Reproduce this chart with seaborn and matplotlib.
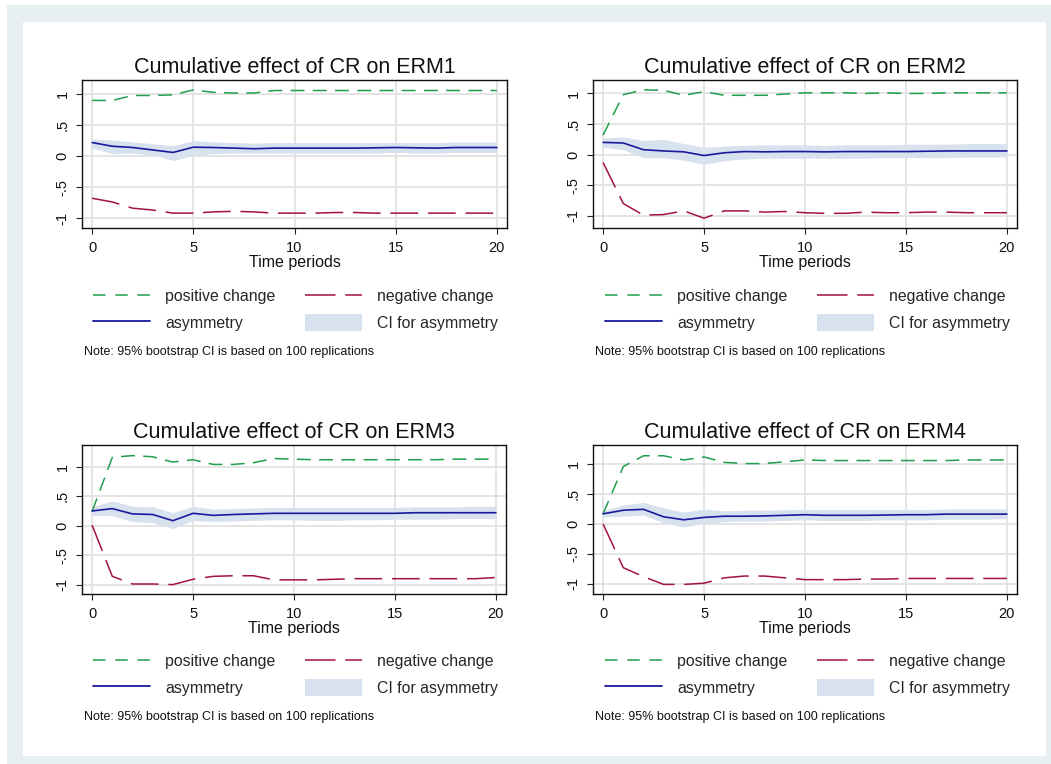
import numpy as np
import pandas as pd
import matplotlib
matplotlib.use("Agg")
import matplotlib.pyplot as plt
from matplotlib.lines import Line2D
from matplotlib.patches import Patch, Rectangle
import seaborn as sns

# time axis
periods = list(range(21))

# ERM1
pos1 = [0.90, 0.90, 0.98, 0.98, 0.99, 1.07, 1.03, 1.02, 1.02, 1.06, 1.06, 1.06, 1.06, 1.06, 1.06, 1.06, 1.06, 1.06, 1.06, 1.06, 1.06]
neg1 = [-0.68, -0.74, -0.84, -0.87, -0.92, -0.92, -0.90, -0.89, -0.90, -0.92, -0.92, -0.92, -0.91, -0.91, -0.92, -0.92, -0.92, -0.92, -0.92, -0.92, -0.92]
asy1 = [0.22, 0.16, 0.14, 0.10, 0.06, 0.145, 0.14, 0.13, 0.12, 0.13, 0.13, 0.13, 0.13, 0.13, 0.135, 0.14, 0.135, 0.13, 0.14, 0.14, 0.14]
lo1 = [0.13, 0.04, 0.05, 0.02, -0.07, 0.01, 0.04, 0.05, 0.05, 0.05, 0.05, 0.05, 0.05, 0.05, 0.05, 0.06, 0.05, 0.05, 0.06, 0.06, 0.06]
hi1 = [0.28, 0.26, 0.23, 0.20, 0.17, 0.25, 0.23, 0.22, 0.21, 0.22, 0.22, 0.22, 0.22, 0.22, 0.22, 0.22, 0.22, 0.22, 0.23, 0.23, 0.23]

# ERM2
pos2 = [0.32, 0.98, 1.06, 1.05, 0.97, 1.03, 0.97, 0.97, 0.97, 0.99, 1.01, 1.01, 1.01, 1.00, 1.01, 1.00, 1.00, 1.01, 1.01, 1.01, 1.01]
neg2 = [-0.13, -0.80, -0.99, -0.98, -0.92, -1.04, -0.92, -0.92, -0.94, -0.93, -0.95, -0.96, -0.96, -0.94, -0.95, -0.95, -0.94, -0.94, -0.95, -0.95, -0.95]
asy2 = [0.20, 0.19, 0.08, 0.06, 0.045, -0.015, 0.03, 0.05, 0.045, 0.05, 0.05, 0.045, 0.05, 0.05, 0.05, 0.05, 0.055, 0.06, 0.06, 0.06, 0.06]
lo2 = [0.12, 0.08, -0.05, -0.05, -0.09, -0.16, -0.10, -0.07, -0.06, -0.06, -0.06, -0.06, -0.06, -0.06, -0.05, -0.05, -0.05, -0.05, -0.04, -0.04, -0.04]
hi2 = [0.27, 0.29, 0.23, 0.25, 0.18, 0.12, 0.14, 0.15, 0.16, 0.16, 0.16, 0.15, 0.16, 0.16, 0.16, 0.17, 0.17, 0.17, 0.18, 0.18, 0.18]

# ERM3
pos3 = [0.24, 1.16, 1.19, 1.17, 1.08, 1.12, 1.04, 1.04, 1.07, 1.14, 1.13, 1.12, 1.12, 1.12, 1.12, 1.12, 1.12, 1.12, 1.13, 1.13, 1.13]
neg3 = [0.01, -0.86, -0.99, -0.99, -1.00, -0.91, -0.86, -0.85, -0.85, -0.92, -0.92, -0.92, -0.91, -0.90, -0.90, -0.90, -0.90, -0.90, -0.90, -0.90, -0.88]
asy3 = [0.25, 0.29, 0.20, 0.19, 0.085, 0.21, 0.175, 0.19, 0.20, 0.21, 0.21, 0.21, 0.21, 0.21, 0.21, 0.21, 0.22, 0.22, 0.22, 0.22, 0.22]
lo3 = [0.17, 0.17, 0.07, 0.05, -0.05, 0.09, 0.07, 0.08, 0.09, 0.10, 0.10, 0.09, 0.09, 0.10, 0.10, 0.11, 0.11, 0.11, 0.12, 0.12, 0.12]
hi3 = [0.32, 0.42, 0.33, 0.32, 0.22, 0.33, 0.28, 0.29, 0.30, 0.31, 0.31, 0.31, 0.31, 0.31, 0.31, 0.31, 0.32, 0.32, 0.32, 0.33, 0.33]

# ERM4
pos4 = [0.17, 0.96, 1.14, 1.14, 1.07, 1.12, 1.03, 1.01, 1.01, 1.04, 1.07, 1.06, 1.06, 1.06, 1.06, 1.06, 1.06, 1.06, 1.07, 1.07, 1.07]
neg4 = [0.00, -0.73, -0.88, -1.01, -1.01, -0.99, -0.90, -0.87, -0.87, -0.90, -0.93, -0.93, -0.93, -0.92, -0.92, -0.91, -0.91, -0.91, -0.91, -0.91, -0.91]
asy4 = [0.17, 0.23, 0.245, 0.12, 0.07, 0.11, 0.13, 0.13, 0.135, 0.145, 0.155, 0.145, 0.145, 0.145, 0.15, 0.155, 0.155, 0.165, 0.165, 0.165, 0.165]
lo4 = [0.12, 0.13, 0.15, 0.02, -0.05, 0.01, 0.04, 0.05, 0.05, 0.06, 0.07, 0.06, 0.06, 0.06, 0.07, 0.07, 0.07, 0.08, 0.08, 0.08, 0.09]
hi4 = [0.22, 0.32, 0.36, 0.27, 0.20, 0.25, 0.22, 0.23, 0.23, 0.24, 0.24, 0.24, 0.24, 0.24, 0.24, 0.24, 0.24, 0.25, 0.25, 0.25, 0.25]

titles = ["Cumulative effect of CR on ERM1", "Cumulative effect of CR on ERM2",
          "Cumulative effect of CR on ERM3", "Cumulative effect of CR on ERM4"]
ylims = [(-1.16, 1.23), (-1.20, 1.22), (-1.16, 1.37), (-1.17, 1.32)]
yticks = [-1, -0.5, 0, 0.5, 1]
ytick_labels = ["-1", "-.5", "0", ".5", "1"]
xticks = [0, 5, 10, 15, 20]
legend_labels = ["positive change", "asymmetry", "negative change", "CI for asymmetry"]
note = "Note: 95% bootstrap CI is based on 100 replications"

GREEN = "#1f9e4c"
RED = "#a3123f"
BLUE = "#1a1a9c"
CI_FILL = "#d8e1ee"
GRID = "#e2e2e2"
FRAME = "#e8eff2"

sns.set_style("white")
plt.rcParams["font.family"] = ["Liberation Sans", "DejaVu Sans"]
plt.rcParams["lines.scale_dashes"] = False

W, H = 1051, 764
fig = plt.figure(figsize=(W / 100, H / 100), dpi=100)
fig.patch.set_facecolor("white")

# outer light frame and inner white area (pixels)
fig.patches.append(Rectangle((7 / W, 0), 1 - 7 / W, 1 - 5 / H, transform=fig.transFigure,
                             facecolor=FRAME, edgecolor="none", zorder=-10))
fig.patches.append(Rectangle((23 / W, 1 - 756 / H), (1046 - 23) / W, (756 - 22) / H,
                             transform=fig.transFigure, facecolor="white", edgecolor="none", zorder=-9))

panels = [
    (pos1, neg1, asy1, lo1, hi1),
    (pos2, neg2, asy2, lo2, hi2),
    (pos3, neg3, asy3, lo3, hi3),
    (pos4, neg4, asy4, lo4, hi4),
]
# axes boxes in pixels: left, top, right, bottom
boxes = [(82, 80, 507, 228), (593, 80, 1017, 228), (82, 445, 506, 594), (593, 445, 1017, 594)]
leg_pos = [(93, 288), (605, 288), (93, 653), (605, 653)]
note_pos = [(84, 352), (595, 352), (84, 717), (595, 717)]

for i, (pos, neg, asy, lo, hi) in enumerate(panels):
    l, t, r, b = boxes[i]
    ax = fig.add_axes([l / W, 1 - b / H, (r - l) / W, (b - t) / H])
    df = pd.DataFrame({"t": periods, "pos": pos, "neg": neg, "asy": asy, "lo": lo, "hi": hi})

    ax.fill_between(df["t"], df["lo"], df["hi"], color=CI_FILL, linewidth=0, zorder=2)
    sns.lineplot(data=df, x="t", y="pos", ax=ax, color=GREEN, linewidth=1.1,
                 linestyle=(0, (10, 6)), zorder=3)
    sns.lineplot(data=df, x="t", y="neg", ax=ax, color=RED, linewidth=1.1,
                 linestyle=(0, (20, 7)), zorder=3)
    sns.lineplot(data=df, x="t", y="asy", ax=ax, color=BLUE, linewidth=1.2, zorder=4)

    ax.set_xlim(-0.5, 20.5)
    ax.set_ylim(*ylims[i])
    ax.set_xticks(xticks)
    ax.set_yticks(yticks)
    ax.set_yticklabels(ytick_labels, rotation=90, va="center")
    ax.grid(True, color=GRID, linewidth=1.3, zorder=0)
    ax.set_axisbelow(True)
    for s in ax.spines.values():
        s.set_visible(True)
        s.set_color("#111111")
        s.set_linewidth(1.0)
    ax.tick_params(axis="both", direction="out", length=4, width=0.8, color="#222222",
                   labelsize=10.5, labelcolor="#111111", left=True, bottom=True)
    ax.tick_params(axis="y", pad=5)
    ax.tick_params(axis="x", pad=5)
    ax.set_xlabel("Time periods", fontsize=11.5, color="#111111", labelpad=0)
    ax.set_ylabel("")
    ax.set_title(titles[i], fontsize=15.5, color="#111111", pad=5)

    handles = [
        Line2D([], [], color=GREEN, linewidth=1.1, linestyle=(0, (9, 7))),
        Line2D([], [], color=BLUE, linewidth=1.3),
        Line2D([], [], color=RED, linewidth=1.1, linestyle=(0, (22, 7))),
        Patch(facecolor=CI_FILL, edgecolor="none"),
    ]
    lx, ly = leg_pos[i]
    fig.legend(handles, legend_labels, ncol=2, loc="upper left",
               bbox_to_anchor=(lx / W, 1 - ly / H), frameon=False, fontsize=11.4,
               handlelength=3.6, handleheight=1.2, handletextpad=0.95, columnspacing=1.9,
               labelspacing=0.62, borderpad=0, borderaxespad=0)
    nx, ny = note_pos[i]
    fig.text(nx / W, 1 - ny / H, note, fontsize=9, color="#111111", ha="left", va="center")

fig.savefig("out.png", dpi=100)
